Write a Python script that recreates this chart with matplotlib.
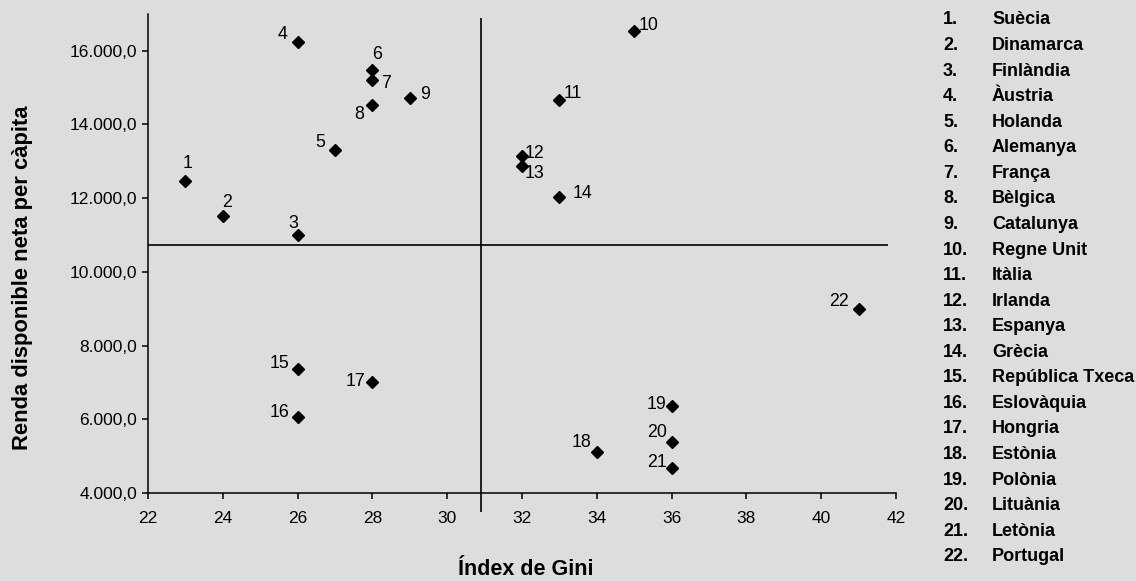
import matplotlib
matplotlib.use("Agg")
import matplotlib.pyplot as plt
from matplotlib.ticker import FuncFormatter

plt.rcParams['font.family'] = ['Liberation Sans', 'DejaVu Sans']

# data
gini = [23, 24, 26, 26, 27, 28, 28, 28, 29, 35, 33,
        32, 32, 33, 26, 26, 28, 34, 36, 36, 36, 41]
renda = [12480, 11530, 10990, 16250, 13310, 15490, 15210, 14530, 14710, 16530, 14670,
         13140, 12870, 12040, 7360, 6050, 7000, 5100, 6360, 5370, 4690, 9000]
paisos = ['Suècia', 'Dinamarca', 'Finlàndia', 'Àustria', 'Holanda', 'Alemanya',
          'França', 'Bèlgica', 'Catalunya', 'Regne Unit', 'Itàlia', 'Irlanda',
          'Espanya', 'Grècia', 'República Txeca', 'Eslovàquia', 'Hongria',
          'Estònia', 'Polònia', 'Lituània', 'Letònia', 'Portugal']
gini_ref = 30.9
renda_ref = 10740

# label offsets in pixels (dx right, dy down)
offsets = [(2, -17), (4, -13), (-4, -12), (-15, -7), (-15, -7), (5, -15),
           (14, 4), (-13, 10), (15, -4), (14, -6), (13, -6), (13, -3),
           (13, 7), (23, -3), (-18, -6), (-18, -5), (-17, -1), (-15, -10),
           (-15, -2), (-15, -10), (-15, -5), (-20, -7)]

bg = '#dddddd'
fig = plt.figure(figsize=(11.36, 5.81), dpi=100, facecolor=bg)
ax = fig.add_axes([0.1303, 0.1515, 0.6584, 0.8245])
ax.set_facecolor(bg)

ax.plot(gini, renda, 'D', color='black', ms=6.5, zorder=3)

px = 72 / 100
for i, (x, y) in enumerate(zip(gini, renda)):
    dx, dy = offsets[i]
    ax.annotate(str(i + 1), (x, y), xytext=(dx * px, -dy * px),
                textcoords='offset points', ha='center', va='center', fontsize=12.8)

ax.vlines(gini_ref, 3480, 16880, color='black', lw=1.2, clip_on=False, zorder=2)
ax.hlines(renda_ref, 22, 41.8, color='black', lw=1.2, clip_on=False, zorder=2)

ax.set_xlim(22, 42)
ax.set_ylim(4000, 17000)
ax.set_xticks(range(22, 43, 2))
ax.set_yticks(range(4000, 17000, 2000))
ax.yaxis.set_major_formatter(FuncFormatter(lambda v, p: f'{v:,.1f}'.replace(',', 'X').replace('.', ',').replace('X', '.')))

for s in ['top', 'right']:
    ax.spines[s].set_visible(False)
for s in ['left', 'bottom']:
    ax.spines[s].set_linewidth(1.1)
ax.tick_params(axis='both', direction='out', length=4, width=1.1, labelsize=12.5)
ax.tick_params(axis='x', pad=9)
ax.tick_params(axis='y', pad=4)

fig.text(526 / 1136, 1 - 575 / 581, 'Índex de Gini', ha='center', va='baseline',
         fontsize=15.5, fontweight='bold')
fig.text(23 / 1136, 1 - 278 / 581, 'Renda disponible neta per càpita', ha='center',
         va='center', rotation=90, fontsize=15.8, fontweight='bold')

# numbered list of countries on the right
for i, nom in enumerate(paisos):
    yy = 1 - (20 + i * 25.56) / 581
    fig.text(943 / 1136, yy, f'{i + 1}.', ha='left', va='center', fontsize=13, fontweight='bold')
    fig.text(992 / 1136, yy, nom, ha='left', va='center', fontsize=13, fontweight='bold')

fig.savefig('out.png', dpi=100, facecolor=bg)
